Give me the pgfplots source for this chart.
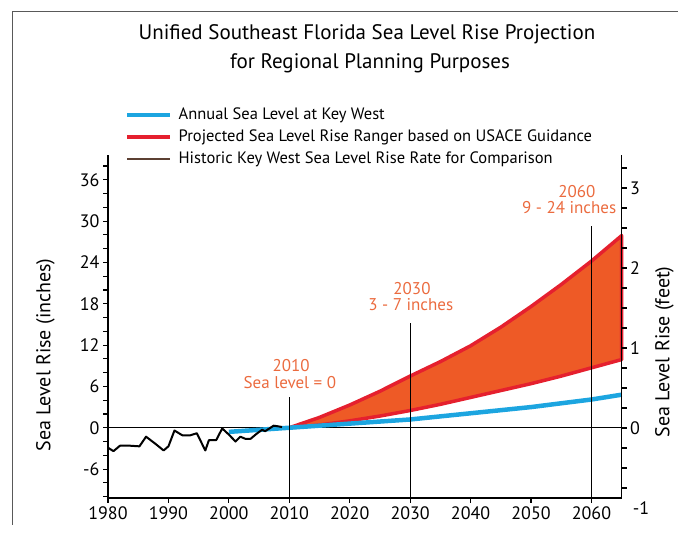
\documentclass[border=0pt]{standalone}
\usepackage{fontspec}
\setmainfont{PT Sans}
\usepackage{pgfplots}
\pgfplotsset{compat=1.18}
\definecolor{slrblue}{RGB}{28,165,224}
\definecolor{slrred}{RGB}{229,32,46}
\definecolor{slrfill}{RGB}{238,90,38}
\definecolor{slrtext}{RGB}{235,107,63}
\definecolor{slrbrown}{RGB}{92,64,51}
\begin{document}
\begin{tikzpicture}
\useasboundingbox (0,0) rectangle (678pt,534pt);
\draw[black!65, line width=0.8pt] (12pt,9pt) -- (12pt,523pt) -- (678pt,523pt);
\node[anchor=base, font=\fontsize{21}{25}\selectfont] at (367pt,494pt) {Unified Southeast Florida Sea Level Rise Projection};
\node[anchor=base, font=\fontsize{21}{25}\selectfont] at (370pt,465pt) {for Regional Planning Purposes};
\begin{axis}[
  at={(108pt,36pt)}, anchor=south west,
  scale only axis, width=513.7pt, height=343pt,
  xmin=1980, xmax=2065, ymin=-10.2, ymax=39.6,
  axis x line*=bottom, axis y line*=left,
  axis line style={line width=1.1pt},
  every tick/.style={black, line width=1.1pt},
  xtick={1980,1990,...,2060},
  ytick={-6,0,...,36},
  minor ytick={-10,-8,...,38},
  tick align=outside,
  major tick length=5pt, minor tick length=5pt,
  tick label style={font=\fontsize{18}{20}\selectfont},
  /pgf/number format/assume math mode=true,
  /pgf/number format/1000 sep={},
  clip=false,
  legend style={at={(axis description cs:0.033,1.140)}, anchor=north west,
    draw=none, fill=none, font=\fontsize{16.5}{19}\selectfont,
    row sep=6pt, inner sep=0pt,
    nodes={inner sep=0pt, text height=12pt, text depth=4pt}},
  legend cell align=left,
  legend image code/.code={\draw[#1] (0pt,0pt) -- (43pt,0pt);},
  /tikz/every odd column/.append style={column sep=6pt},
]
\addlegendimage{slrblue, line width=4.5pt}
\addlegendentry{Annual Sea Level at Key West}
\addlegendimage{slrred, line width=4.5pt}
\addlegendentry{Projected Sea Level Rise Ranger based on USACE Guidance}
\addlegendimage{slrbrown, line width=1.8pt}
\addlegendentry{Historic Key West Sea Level Rise Rate for Comparison}

% zero line
\addplot[forget plot, black, line width=1.1pt] coordinates {(1980,0) (2065,0)};

% projected range (upper curve, then lower curve back)
\addplot[forget plot, fill=slrfill, draw=slrred, line width=3.5pt, line join=round] coordinates {
 (2010,0) (2015,1.5) (2020,3.3) (2025,5.3) (2030,7.5) (2035,9.6) (2040,11.9)
 (2045,14.6) (2050,17.6) (2055,20.8) (2060,24.2) (2065,27.9)
 (2065,9.9) (2060,8.7) (2055,7.5) (2050,6.4) (2045,5.4) (2040,4.4)
 (2035,3.4) (2030,2.5) (2025,1.7) (2020,1.0) (2015,0.4) (2010,0)} -- cycle;

% annual sea level trend
\addplot[forget plot, slrblue, line width=4.5pt] coordinates {
 (2000,-0.6) (2010,0) (2020,0.6) (2030,1.2) (2040,2.1) (2050,3.0) (2060,4.1) (2065,4.8)};

% historic Key West
\addplot[forget plot, black, line width=2pt, line join=round] coordinates {
 (1980,-2.9) (1980.9,-3.4) (1982,-2.6) (1983.5,-2.6) (1985.2,-2.7) (1986.3,-1.3)
 (1987.8,-2.3) (1989.2,-3.3) (1990,-2.7) (1991,-0.4) (1992.3,-1.1) (1993.6,-1.1)
 (1994.7,-0.8) (1996.1,-3.3) (1996.7,-1.8) (1997.9,-1.8) (1998.9,-0.1) (2000,-1.0)
 (2001.1,-2.0) (2001.9,-1.3) (2002.7,-1.6) (2003.6,-1.6) (2004.7,-0.8) (2005.5,-0.3)
 (2006,-0.5) (2006.9,0) (2007.4,0.3) (2008.2,0.2) (2008.8,0.1)};

% reference years
\addplot[forget plot, black, line width=1pt] coordinates {(2010,-10.2) (2010,4.5)};
\addplot[forget plot, black, line width=1pt] coordinates {(2030,-10.2) (2030,15.2)};
\addplot[forget plot, black, line width=1pt] coordinates {(2060,-10.2) (2060,29.3)};

\node[anchor=base, text=slrtext, font=\fontsize{17}{20}\selectfont] at (axis cs:2010.3,8.1) {2010};
\node[anchor=base, text=slrtext, font=\fontsize{17}{20}\selectfont] at (axis cs:2010.1,5.7) {Sea level = 0};
\node[anchor=base, text=slrtext, font=\fontsize{17}{20}\selectfont] at (axis cs:2030.3,19.3) {2030};
\node[anchor=base, text=slrtext, font=\fontsize{17}{20}\selectfont] at (axis cs:2030.1,17.0) {3 - 7 inches};
\node[anchor=base, text=slrtext, font=\fontsize{17}{20}\selectfont] at (axis cs:2057.6,33.4) {2060};
\node[anchor=base, text=slrtext, font=\fontsize{17}{20}\selectfont] at (axis cs:2056.3,31.1) {9 - 24 inches};
\end{axis}

\begin{axis}[
  at={(108pt,36pt)}, anchor=south west,
  scale only axis, width=513.7pt, height=343pt,
  xmin=1980, xmax=2065, ymin=-0.875, ymax=3.4125,
  axis x line=none, axis y line*=right,
  axis line style={line width=1.1pt},
  every tick/.style={black, line width=1.1pt},
  ytick={0,1,2,3},
  minor ytick={-0.75,-0.5,...,3.25},
  tick align=outside,
  major tick length=5pt, minor tick length=5pt,
  tick label style={font=\fontsize{18}{20}\selectfont},
  /pgf/number format/assume math mode=true,
  clip=false,
]
\node[anchor=west, inner sep=0pt, font=\fontsize{18}{20}\selectfont] at (axis cs:2065,-1) [xshift=11pt] {-1};
\end{axis}

\node[rotate=90, anchor=north, inner sep=0pt, font=\fontsize{20}{24}\selectfont] at (36pt,179pt) {Sea Level Rise (inches)};
\node[rotate=90, anchor=north, inner sep=0pt, font=\fontsize{20}{24}\selectfont] at (655pt,182pt) {Sea Level Rise (feet)};
\end{tikzpicture}
\end{document}
